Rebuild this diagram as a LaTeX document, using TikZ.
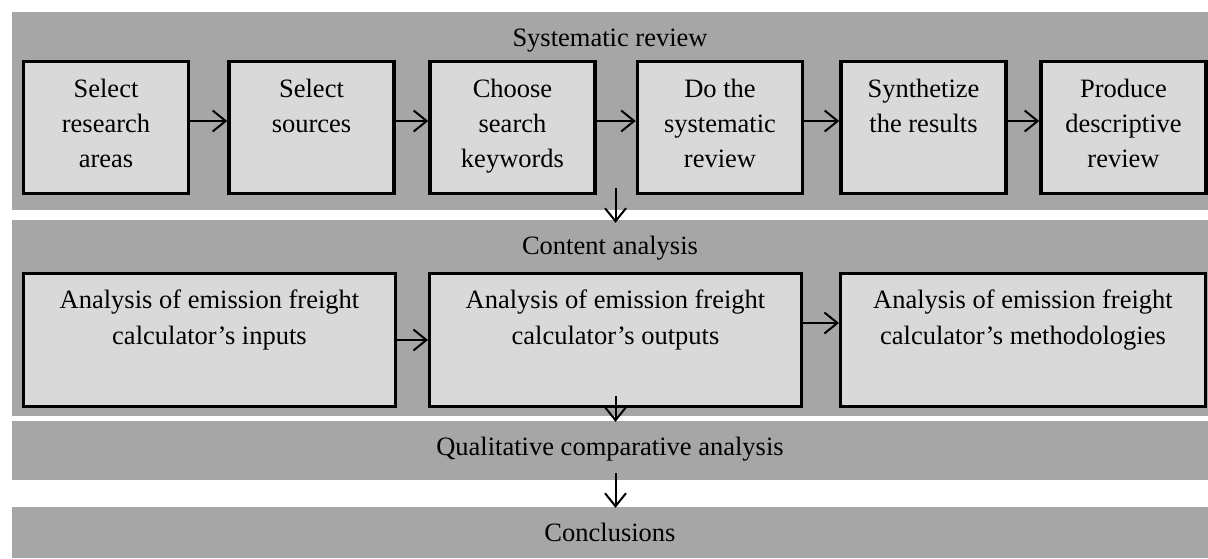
\documentclass[tikz,border=0pt]{standalone}
\usepackage{fontspec}
\setmainfont{Liberation Serif}
\usetikzlibrary{arrows.meta}
\definecolor{bandgray}{HTML}{A6A6A6}
\definecolor{boxgray}{HTML}{D9D9D9}
\newcommand{\rowonebox}[1]{\parbox[c][131.7pt][t]{165.2pt}{\centering\fontsize{26.5pt}{35pt}\selectfont\rule{0pt}{35.35pt}#1}}
\newcommand{\rowtwobox}[2]{\parbox[c][132.7pt][t]{#1}{\centering\fontsize{26.5pt}{36pt}\selectfont\rule{0pt}{34.35pt}#2}}
\tikzset{
  band/.style={rectangle, fill=bandgray, draw=none, inner sep=0pt},
  stepbox/.style={rectangle, fill=boxgray, draw=black, line width=3.3pt, inner sep=0pt},
  bandtitle/.style={anchor=base, inner sep=0pt, font=\fontsize{26.5pt}{31pt}\selectfont},
  arr/.style={draw=black, line width=2pt, -{Straight Barb[length=13pt,width=21pt]}}
}
\begin{document}
\begin{tikzpicture}[x=1pt,y=-1pt]
\useasboundingbox (0,0) rectangle (1208,558);
% bands
\node[band, minimum width=1196pt, minimum height=198pt] (band1) at (610,111) {};
\node[band, minimum width=1196pt, minimum height=196pt] (band2) at (610,318) {};
\node[band, minimum width=1196pt, minimum height=59pt] (band3) at (610,450.5) {};
\node[band, minimum width=1196pt, minimum height=51pt] (band4) at (610,532.5) {};
% band titles
\node[bandtitle] (t1) at (610,46) {Systematic review};
\node[bandtitle] (t2) at (610,254) {Content analysis};
\node[bandtitle] (t3) at (610,455) {Qualitative comparative analysis};
\node[bandtitle] (t4) at (610,541) {Conclusions};
% row 1 boxes
\node[stepbox] (b1) at (106,127.5) {\rowonebox{Select\\research\\areas}};
\node[stepbox] (b2) at (311.5,127.5) {\rowonebox{Select\\sources}};
\node[stepbox] (b3) at (512.5,127.5) {\rowonebox{Choose\\search\\keywords}};
\node[stepbox] (b4) at (720,127.5) {\rowonebox{Do the\\systematic\\review}};
\node[stepbox] (b5) at (923.5,127.5) {\rowonebox{Synthetize\\the results}};
\node[stepbox] (b6) at (1123.5,127.5) {\rowonebox{Produce\\descriptive\\review}};
% row 2 boxes
\node[stepbox] (c1) at (209.5,340) {\rowtwobox{371.7pt}{Analysis of emission freight\\calculator’s inputs}};
\node[stepbox] (c2) at (615.5,340) {\rowtwobox{371.7pt}{Analysis of emission freight\\calculator’s outputs}};
\node[stepbox] (c3) at (1023,340) {\rowtwobox{364.7pt}{Analysis of emission freight\\calculator’s methodologies}};
% horizontal arrows row 1
\foreach \a/\b in {b1/b2,b2/b3,b3/b4,b4/b5,b5/b6}{
  \draw[arr] ([yshift=6.5pt]\a.east) -- ([yshift=6.5pt]\b.west);
}
% horizontal arrows row 2
\draw[arr] (c1.east) -- (c2.west);
\draw[arr] ([yshift=17pt]c2.east) -- ([yshift=17pt]c3.west);
% vertical arrows
\coordinate (d1) at (615.5,188);
\coordinate (d2) at (615.5,396);
\coordinate (d3) at (615.5,473);
\draw[arr, shorten >=-3pt] (d1) -- (band2.north -| d1);
\draw[arr, shorten >=-1pt] (d2) -- (band3.north -| d2);
\draw[arr, shorten >=-1pt] (d3) -- (band4.north -| d3);
\end{tikzpicture}
\end{document}
